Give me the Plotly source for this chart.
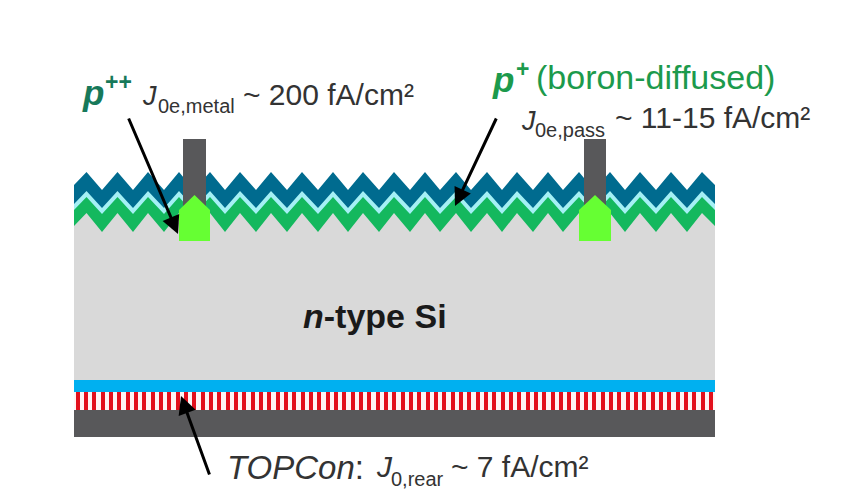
"""TOPCon cell cross-section sketch, drawn in image pixel coordinates."""

import plotly.graph_objects as go

WIDTH = 854
HEIGHT = 497
FONT = "Liberation Sans"

# zigzag tips
peak_x = [86.5, 117.5, 148, 179, 210, 240, 271, 302, 333, 363, 394,
          425, 456, 487, 517, 548, 579, 610, 640, 671, 702]
valley_x = [102, 133, 164, 194, 225, 256, 287, 318, 348, 379,
            410, 440, 471, 502, 533, 563, 594, 625, 656, 687]

# layer name, colour, y at peak, y at valley (painted top to bottom)
zigzag_layers = [
    ("ARC", "#006b8f", 172, 190),
    ("passivation", "#a5f0f5", 191, 208),
    ("emitter", "#14b85e", 197, 214),
    ("bulk", "#d9d9d9", 213, 232),
]
stack_left = 74
stack_right = 715
stack_bottom = 380

finger_spans = [(183, 206), (584, 606)]
contact_spans = [(179, 210), (579, 611)]

stripe_x = [78, 86, 94, 103, 111, 119, 128, 136, 144, 153, 161, 169, 178,
            186, 194, 203, 211, 219, 228, 236, 244, 253, 261, 269, 278, 286,
            294, 303, 311, 319, 328, 336, 344, 353, 361, 369, 378, 386, 394,
            403, 411, 419, 428, 436, 444, 453, 461, 469, 478, 486, 494, 503,
            511, 519, 528, 536, 544, 553, 561, 569, 578, 586, 594, 603, 611,
            619, 628, 636, 644, 653, 661, 669, 678, 686, 694, 703, 711]

arrows = [
    (128, 117, 178, 234),
    (497, 117, 455, 206),
    (210, 476, 181, 396),
]

INK = "#333333"
labels = [
    (80, 92, "<b><i>p</i></b>", 35, "#17795a"),
    (103, 82, "<b>++</b>", 23, "#17795a"),
    (140, 96, "<i>J</i>", 27, INK),
    (156, 106, "0e,metal", 20, INK),
    (241, 94, "~ 200 fA/cm²", 30, INK),
    (490, 79, "<b><i>p</i></b>", 35, "#1c9a4c"),
    (514, 69, "<b>+</b>", 23, "#1c9a4c"),
    (534, 77, "(boron-diffused)", 34, "#1c9a4c"),
    (519, 121, "<i>J</i>", 27, INK),
    (533, 130, "0e,pass", 20, INK),
    (613, 117, "~ 11-15 fA/cm²", 30, INK),
    (301, 316, "<b><i>n</i>-type Si</b>", 34, "#1a1a1a"),
    (225, 467, "<i>TOPCon</i>:", 33, INK),
    (374, 466, "<i>J</i>", 30, INK),
    (389, 479, "0,rear", 20, INK),
    (449, 466, "~ 7 fA/cm²", 30, INK),
]


def polygon(xs, ys, color):
    return go.Scatter(
        x=xs, y=ys, mode="lines", fill="toself", fillcolor=color,
        line={"color": color, "width": 0}, hoverinfo="skip", showlegend=False,
    )


def box(x0, x1, y0, y1, color):
    return polygon([x0, x1, x1, x0, x0], [y0, y0, y1, y1, y0], color)


def zigzag_polygon(peak_y, valley_y, color):
    # ends of the stack cut the first and last slope part way down
    edge_y = peak_y + 13
    tips = sorted(
        [(x, peak_y) for x in peak_x] + [(x, valley_y) for x in valley_x]
    )
    xs = [stack_left] + [t[0] for t in tips] + [stack_right, stack_right, stack_left, stack_left]
    ys = [edge_y] + [t[1] for t in tips] + [edge_y, stack_bottom, stack_bottom, edge_y]
    return polygon(xs, ys, color)


fig = go.Figure()

for _, color, peak_y, valley_y in zigzag_layers:
    fig.add_trace(zigzag_polygon(peak_y, valley_y, color))

# rear stack
fig.add_trace(box(stack_left, stack_right, 380, 392, "#00b0f0"))
fig.add_trace(box(stack_left, stack_right, 392, 410, "#fff4f4"))
stripe_xs, stripe_ys = [], []
for x in stripe_x:
    stripe_xs += [x, x, None]
    stripe_ys += [392, 410, None]
fig.add_trace(go.Scatter(
    x=stripe_xs, y=stripe_ys, mode="lines",
    line={"color": "#e2101c", "width": 4}, hoverinfo="skip", showlegend=False,
))
fig.add_trace(box(stack_left, stack_right, 410, 437, "#58585a"))

# front contacts
for x0, x1 in finger_spans:
    fig.add_trace(box(x0, x1, 139, 215, "#58585a"))
for x0, x1 in contact_spans:
    mid = (x0 + x1) / 2
    fig.add_trace(polygon(
        [x0, mid, x1, x1, x0, x0], [210, 195, 210, 241, 241, 210], "#66ff33",
    ))

for x0, y0, x1, y1 in arrows:
    fig.add_annotation(
        x=x1, y=y1, ax=x0, ay=y0, xref="x", yref="y", axref="x", ayref="y",
        text="", showarrow=True, arrowhead=2, arrowsize=1.2, arrowwidth=3,
        arrowcolor="#000000",
    )

for x, y, text, size, color in labels:
    fig.add_annotation(
        x=x, y=y, xref="x", yref="y", text=text, showarrow=False,
        xanchor="left", yanchor="middle", align="left",
        font={"family": FONT, "size": size, "color": color},
    )

fig.update_layout(
    width=WIDTH,
    height=HEIGHT,
    margin={"l": 0, "r": 0, "t": 0, "b": 0},
    paper_bgcolor="#ffffff",
    plot_bgcolor="#ffffff",
    showlegend=False,
    xaxis={"range": [0, WIDTH], "visible": False, "fixedrange": True},
    yaxis={"range": [HEIGHT, 0], "visible": False, "fixedrange": True},
)

# the page's default body margin would push the figure 8px off
fig.write_html(
    "out.html",
    config={"displayModeBar": False},
    post_script="document.body.style.margin = '0';",
)
